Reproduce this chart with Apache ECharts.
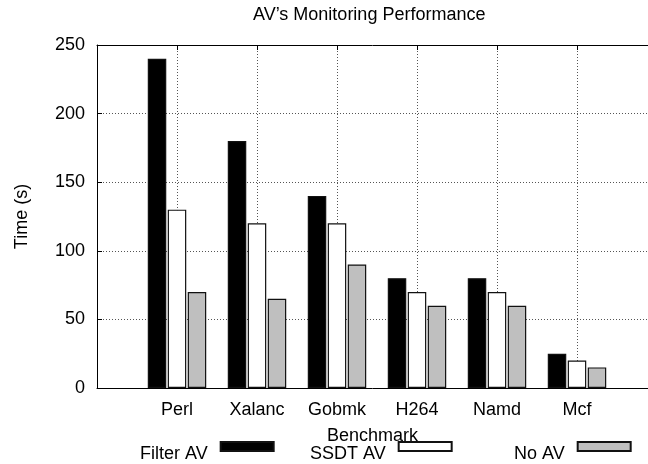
<!DOCTYPE html>
<html>
<head>
<meta charset="utf-8">
<script src="https://cdn.jsdelivr.net/npm/echarts@6/dist/echarts.min.js"></script>
<style>
html,body{margin:0;padding:0;background:#fff;}
#chart{width:648px;height:464px;}
</style>
</head>
<body>
<div id="chart"></div>
<script>
const categories = ['Perl', 'Xalanc', 'Gobmk', 'H264', 'Namd', 'Mcf'];
const filterAV = [240, 180, 140, 80, 80, 25];
const ssdtAV = [130, 120, 120, 70, 70, 20];
const noAV = [70, 65, 90, 60, 60, 15];
const seriesNames = ['Filter AV', 'SSDT AV', 'No AV'];
const yTicks = [0, 50, 100, 150, 200, 250];

const FONT = "'Liberation Sans', Arial, Helvetica, sans-serif";
const fills = ['#000000', '#ffffff', '#bfbfbf'];
const legendLefts = [140, 310, 514];
const allValues = [filterAV, ssdtAV, noAV];
// x range: one empty slot left of the first category; the plot runs off the right edge
const X_MIN = -1, X_MAX = 5.8875;

const chart = echarts.init(document.getElementById('chart'), null, {renderer: 'canvas'});

const series = allValues.map((vals, s) => ({
  name: seriesNames[s],
  type: 'bar',
  xAxisIndex: 0,
  data: vals.map((v, i) => [i, v]),
  barWidth: 18.5,
  barGap: '8%',
  itemStyle: {color: fills[s], borderColor: '#111', borderWidth: 1.2},
  emphasis: {disabled: true},
  animation: false
}));

const legends = seriesNames.map((n, s) => ({
  data: [n],
  left: legendLefts[s],
  top: 441,
  padding: 0,
  align: 'right',
  icon: 'rect',
  itemWidth: 53,
  itemHeight: 9,
  selectedMode: false,
  formatter: name => '{t|' + name + '}',
  textStyle: {
    fontFamily: FONT, fontSize: 18, color: '#000',
    rich: {t: {fontFamily: FONT, fontSize: 18, color: '#000', padding: [15, 8, 0, 0]}}
  }
}));

chart.setOption({
  animation: false,
  title: {
    text: 'AV\u2019s Monitoring Performance',
    left: 253, top: 6, padding: 0,
    textStyle: {fontFamily: FONT, fontSize: 18, fontWeight: 'normal', color: '#000'}
  },
  legend: legends,
  grid: {left: 97, top: 45, right: 0, height: 343, containLabel: false},
  xAxis: [{
    type: 'value',
    min: X_MIN, max: X_MAX, interval: 1,
    name: 'Benchmark',
    nameLocation: 'middle',
    nameGap: 39,
    nameTextStyle: {fontFamily: FONT, fontSize: 18, color: '#000'},
    axisLine: {show: true, onZero: false, lineStyle: {color: '#000', width: 1}},
    axisTick: {show: true, inside: true, length: 5, lineStyle: {color: '#000'}},
    axisLabel: {
      fontFamily: FONT, fontSize: 18, color: '#000', margin: 13,
      showMinLabel: false, showMaxLabel: false,
      formatter: v => (Number.isInteger(v) && v >= 0 && v < categories.length ? categories[v] : '')
    },
    splitLine: {show: true, lineStyle: {color: '#555', type: [1, 2], width: 1}}
  }, {
    type: 'value',
    position: 'top',
    min: X_MIN, max: X_MAX, interval: 1,
    axisLine: {show: true, onZero: false, lineStyle: {color: '#000', width: 1}},
    axisTick: {show: true, inside: true, length: 5, lineStyle: {color: '#000'}},
    axisLabel: {show: false},
    splitLine: {show: false}
  }],
  yAxis: {
    type: 'value',
    min: yTicks[0], max: yTicks[yTicks.length - 1], interval: yTicks[1] - yTicks[0],
    name: 'Time (s)',
    nameLocation: 'middle',
    nameGap: 66,
    nameTextStyle: {fontFamily: FONT, fontSize: 18, color: '#000'},
    axisLine: {show: true, onZero: false, lineStyle: {color: '#000', width: 1}},
    axisTick: {show: true, inside: true, length: 5, lineStyle: {color: '#000'}},
    axisLabel: {fontFamily: FONT, fontSize: 18, color: '#000', margin: 12},
    splitLine: {show: true, lineStyle: {color: '#555', type: [1, 2], width: 1}}
  },
  series: series
});
</script>
</body>
</html>
